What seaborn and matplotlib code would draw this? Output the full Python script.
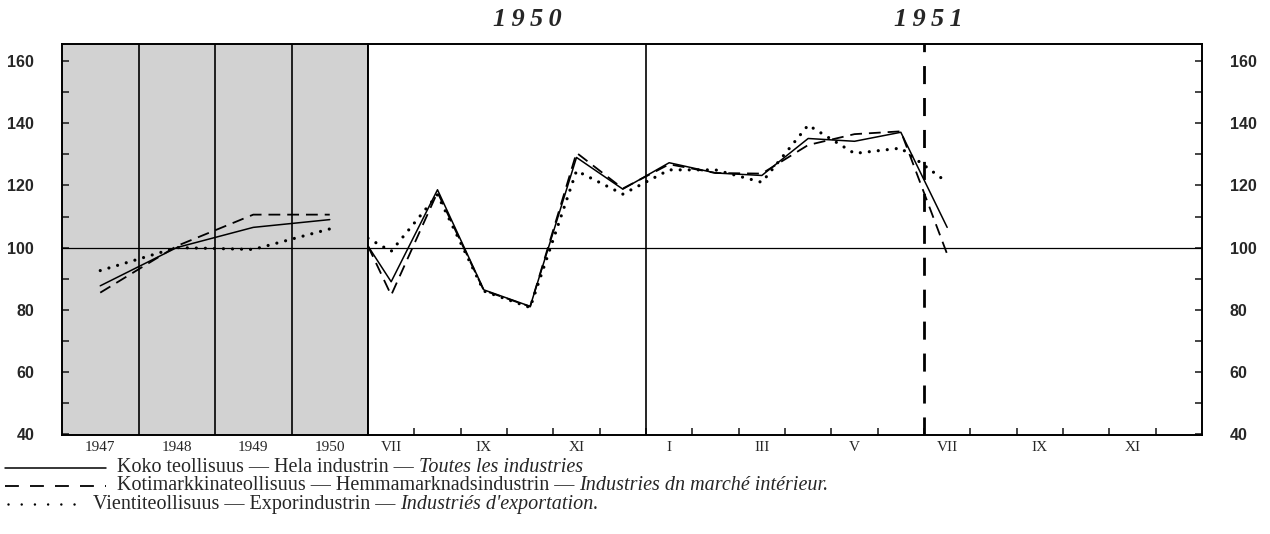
import numpy as np
import pandas as pd
import matplotlib
matplotlib.use('Agg')
import matplotlib.pyplot as plt
import seaborn as sns
from matplotlib.lines import Line2D

# ---- data -------------------------------------------------------------
years = [1947, 1948, 1949, 1950]
year_labels = ['1947', '1948', '1949', '1950']
total_year = [87.7, 100.0, 106.5, 109.0]
home_year = [85.5, 100.5, 110.6, 110.6]
export_year = [92.6, 100.0, 99.4, 106.0]

# monthly values VII 1950 .. VII 1951, first value = level where the monthly part begins
month_names = ['VII', 'VIII', 'IX', 'X', 'XI', 'XII', 'I', 'II', 'III', 'IV', 'V', 'VI', 'VII']
total_start, home_start, export_start = 100.5, 100.5, 103.0
total_month = [89.0, 118.6, 86.4, 81.1, 129.0, 118.8, 127.3, 124.0, 123.2, 135.1, 134.2, 137.1, 106.5]
home_month = [84.7, 117.8, 86.2, 81.0, 130.5, 119.0, 126.8, 124.0, 123.8, 133.0, 136.5, 137.4, 97.9]
export_month = [98.8, 117.0, 86.0, 80.7, 124.7, 117.2, 125.0, 125.0, 121.0, 139.4, 130.3, 132.0, 121.0]

axis_months = ['VII', 'VIII', 'IX', 'X', 'XI', 'XII', 'I', 'II', 'III', 'IV', 'V', 'VI',
               'VII', 'VIII', 'IX', 'X', 'XI', 'XII']

legend_rows = [
    ('Koko teollisuus — Hela industrin —', 'Toutes les industries'),
    ('Kotimarkkinateollisuus — Hemmamarknadsindustrin —', 'Industries dn marché intérieur.'),
    ('Vientiteollisuus — Exporindustrin —', "Industriés d'exportation."),
]

# ---- style ------------------------------------------------------------
sns.set_style('ticks')
plt.rcParams['font.family'] = ['Liberation Serif', 'DejaVu Serif']
plt.rcParams['lines.scale_dashes'] = False

styles = {
    'solid': dict(lw=1.1, dashes=None),
    'dashed': dict(lw=1.3, dashes=[8.5, 5]),
    'dotted': dict(lw=2.3, dashes=[0.01, 6.5]),
}

W, H = 1270, 534
fig = plt.figure(figsize=(12.7, 5.34), dpi=100)
fig.patch.set_facecolor('white')
bottom = 1 - 435 / H
height = 391 / H
ax_y = fig.add_axes([62 / W, bottom, 306 / W, height])
ax_m = fig.add_axes([368 / W, bottom, 834 / W, height])

ymin, ymax = 39.7, 165.5


def draw(ax, x, y, kind):
    st = styles[kind]
    sns.lineplot(x=x, y=y, ax=ax, color='black', lw=st['lw'], estimator=None, sort=False)
    ln = ax.lines[-1]
    if st['dashes'] is not None:
        ln.set_dashes(st['dashes'])
        ln.set_dash_capstyle('round' if kind == 'dotted' else 'butt')


# ---- annual part --------------------------------------------------------
df_y = pd.DataFrame({'year': years, 'total': total_year, 'home': home_year, 'export': export_year})
ax_y.set_facecolor('#d2d2d2')
for v in [1947.5, 1948.5, 1949.5]:
    ax_y.axvline(v, color='black', lw=1.2)
ax_y.axhline(100, color='black', lw=0.9)
draw(ax_y, df_y['year'], df_y['total'], 'solid')
draw(ax_y, df_y['year'], df_y['home'], 'dashed')
draw(ax_y, df_y['year'], df_y['export'], 'dotted')
ax_y.set_xlim(1946.5, 1950.5)
ax_y.set_ylim(ymin, ymax)
ax_y.set_xticks(years)
ax_y.set_xticklabels(year_labels)
ax_y.tick_params(axis='x', length=0, pad=4, labelsize=11)
ax_y.set_yticks(range(40, 161, 20))
ax_y.set_yticks(range(50, 161, 20), minor=True)
ax_y.tick_params(axis='y', which='both', direction='in', length=5, width=1.2,
                 pad=20, labelsize=11.5)
for lab in ax_y.get_yticklabels():
    lab.set_fontfamily('Liberation Sans')
    lab.set_fontweight('bold')
ax_y.set_xlabel('')
ax_y.set_ylabel('')

# ---- monthly part -------------------------------------------------------
mx = [0] + [i + 0.5 for i in range(len(month_names))]
df_m = pd.DataFrame({'x': mx,
                     'total': [total_start] + total_month,
                     'home': [home_start] + home_month,
                     'export': [export_start] + export_month})
ax_m.set_facecolor('white')
ax_m.axhline(100, color='black', lw=0.9)
ax_m.axvline(6, color='black', lw=1.2)
ax_m.axvline(12, color='black', lw=2.0, dashes=[13, 10])
draw(ax_m, df_m['x'], df_m['total'], 'solid')
draw(ax_m, df_m['x'], df_m['home'], 'dashed')
draw(ax_m, df_m['x'], df_m['export'], 'dotted')
ax_m.set_xlim(0, len(axis_months))
ax_m.set_ylim(ymin, ymax)
ax_m.set_xticks(range(1, len(axis_months)))
ax_m.set_xticklabels([])
ax_m.set_xticks([i + 0.5 for i in range(0, len(axis_months), 2)], minor=True)
ax_m.set_xticklabels(axis_months[::2], minor=True)
ax_m.tick_params(axis='x', which='major', direction='in', length=5, width=1.2)
ax_m.tick_params(axis='x', which='minor', length=0, pad=4, labelsize=11)
ax_m.yaxis.tick_right()
ax_m.set_yticks(range(40, 161, 20))
ax_m.set_yticks(range(50, 161, 20), minor=True)
ax_m.tick_params(axis='y', which='both', direction='in', length=5, width=1.2,
                 pad=20, labelsize=11.5, left=False, right=True)
for lab in ax_m.get_yticklabels():
    lab.set_fontfamily('Liberation Sans')
    lab.set_fontweight('bold')
ax_m.set_xlabel('')
ax_m.set_ylabel('')

for ax in (ax_y, ax_m):
    for sp in ax.spines.values():
        sp.set_visible(True)
        sp.set_color('black')
        sp.set_linewidth(1.4)

# year headers
head_tr = matplotlib.transforms.blended_transform_factory(ax_m.transData, fig.transFigure)
for xpos, txt in [(3.45, '1\u20099\u20095\u20090'), (12.1, '1\u20099\u20095\u20091')]:
    fig.text(xpos, 1 - 20 / H, txt, transform=head_tr, ha='center', va='center',
             fontsize=19, style='italic', fontweight='bold', family=['Liberation Serif', 'DejaVu Serif'])

# ---- legend at the bottom ----------------------------------------------
row_y = [468, 486, 504]
text_x = [117, 117, 93]
samples = [('solid', 5, 106), ('dashed', 5, 106), ('dotted', 8, 82)]
fig.canvas.draw()
renderer = fig.canvas.get_renderer()
for (kind, x0, x1), yy, tx, (roman, ital) in zip(samples, row_y, text_x, legend_rows):
    st = styles[kind]
    ln = Line2D([x0 / W, x1 / W], [1 - yy / H, 1 - yy / H], transform=fig.transFigure,
                color='black', lw=st['lw'] if kind != 'dotted' else 1.8)
    if kind == 'dashed':
        ln.set_dashes([10, 8])
    elif kind == 'dotted':
        ln.set_dashes([0.01, 9.5])
        ln.set_dash_capstyle('round')
    fig.add_artist(ln)
    t = fig.text(tx / W, 1 - yy / H, roman, ha='left', va='center', fontsize=14.5)
    bb = t.get_window_extent(renderer)
    fig.text((bb.x1 + 5) / W, 1 - yy / H, ital, ha='left', va='center', fontsize=14.5,
             style='italic')

plt.savefig('out.png', dpi=100)
